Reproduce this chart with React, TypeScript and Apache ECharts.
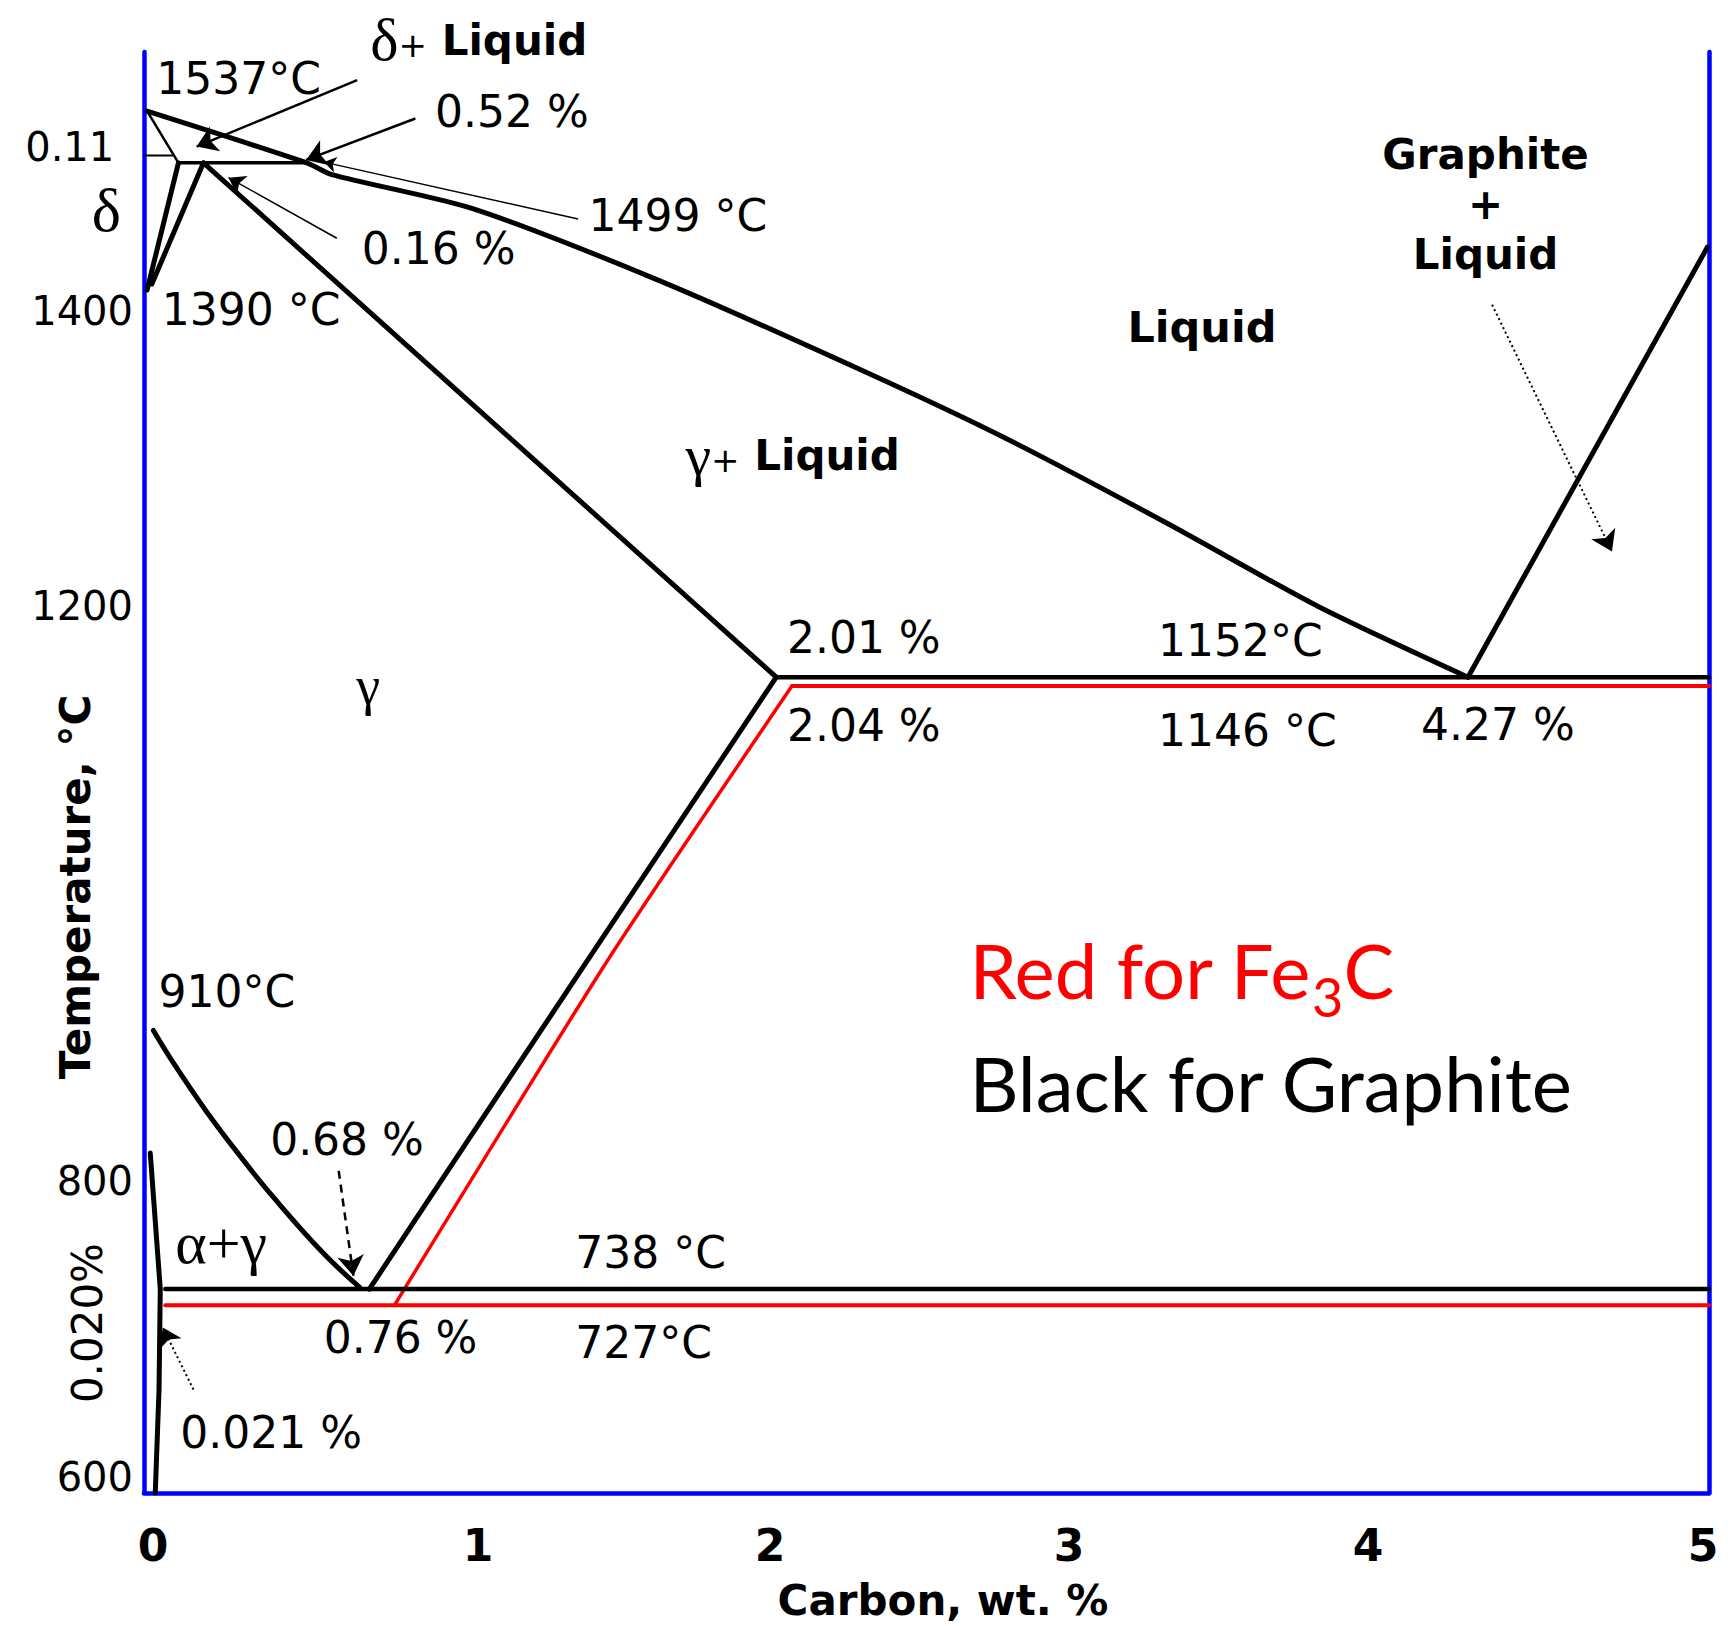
import React, { useEffect, useRef } from "react";
import * as echarts from "echarts";

// ---------- axes ----------
const xRange = [0, 5];
const yRange = [600, 1575];
const xTicks = [0, 1, 2, 3, 4, 5];
const yTicks = [600, 800, 1200, 1400];

// ---------- phase boundaries: [carbon wt.%, temperature °C] ----------
const liquidus = [[0.01, 1535], [0.52, 1500], [0.6, 1492], [1.05, 1469], [1.65, 1420], [2.3, 1359], [2.74, 1315], [3.27, 1256], [3.75, 1200], [4.23, 1152]];
const deltaSolidus = [[0.01, 1535], [0.11, 1500]];
const peritectic = [[0.11, 1500], [0.52, 1500]];
const deltaLeft = [[0.11, 1500], [0.01, 1414]];
const deltaRight = [[0.19, 1500], [0.025, 1418]];
const gammaSolidus = [[0.19, 1500], [2.02, 1152]];
const graphiteLiquidus = [[4.23, 1152], [4.995, 1443]];
const eutecticGraphite = [[2.02, 1152], [5, 1152]];
const eutecticFe3C = [[2.07, 1146], [5, 1146]];
const acmGraphite = [[2.02, 1152], [1.4, 955], [0.72, 738]];
const acmFe3C = [[2.07, 1146], [1.48, 960], [0.8, 727]];
const a3Line = [[0.03, 913], [0.094, 891], [0.2, 858], [0.307, 828], [0.414, 800], [0.574, 762], [0.69, 739]];
const eutectoidGraphite = [[0.068, 738], [5, 738]];
const eutectoidFe3C = [[0.068, 727], [5, 727]];
const alphaSolvus = [[0.02, 830], [0.052, 738], [0.048, 670], [0.036, 600]];
const tick011 = [[-0.083, 1505], [0.09, 1505]];
const tick020 = [[-0.074, 746], [-0.013, 742]];

// ---------- arrows: [from, to] ----------
const arrow1537 = [[0.681, 1556], [0.168, 1511]];
const arrow052 = [[0.867, 1530], [0.518, 1502]];
const arrow1499 = [[1.387, 1462], [0.575, 1500.5]];
const arrow016 = [[0.616, 1449], [0.27, 1490]];
const arrow068 = [[0.622, 818], [0.669, 747]];
const arrow021 = [[0.158, 670], [0.06, 712]];
const arrowGraphite = [[4.307, 1404], [4.69, 1237]];

// ---------- annotations: [key, text, carbon, temperature] ----------
const annotations: [string, string, number, number][] = [
  ["t1537", "1537°C", 0.039, 1557],
  ["deltaLiquid", "δ+ Liquid", 0.723, 1583],
  ["p052", "0.52 %", 0.93, 1534.5],
  ["y011", "0.11", -0.095, 1511],
  ["delta", "δ", -0.12, 1468],
  ["t1499", "1499 °C", 1.42, 1464.6],
  ["p016", "0.16 %", 0.696, 1442],
  ["t1390", "1390 °C", 0.057, 1401],
  ["graphiteLiquid", "Graphite\n+\nLiquid", 4.286, 1472],
  ["liquid", "Liquid", 3.38, 1389],
  ["gammaLiquid", "γ+ Liquid", 1.73, 1302],
  ["p201", "2.01 %", 2.054, 1179],
  ["t1152", "1152°C", 3.24, 1177],
  ["p204", "2.04 %", 2.054, 1119],
  ["t1146", "1146 °C", 3.24, 1116],
  ["p427", "4.27 %", 4.08, 1120],
  ["gamma", "γ", 0.716, 1146],
  ["yName", "Temperature, °C", -0.22, 1010],
  ["t910", "910°C", 0.046, 939],
  ["p068", "0.68 %", 0.403, 839],
  ["alphaGamma", "α+γ", 0.1, 769],
  ["t738", "738 °C", 1.378, 763],
  ["p076", "0.76 %", 0.574, 705],
  ["t727", "727°C", 1.378, 702],
  ["p020", "0.020%", -0.18, 715],
  ["p021", "0.021 %", 0.116, 641],
  ["fe3c", "Red for Fe3C", 2.637, 954],
  ["graphite", "Black for Graphite", 2.637, 878],
];

const BLUE = "#0000ff";
const RED = "#ff0000";
const SANS = "DejaVu Sans";
const SERIF = "Liberation Serif";
const CAL = "Lato";

function labelFor(key: string, text: string): any {
  const L: any = {
    show: true,
    position: "inside",
    align: "left",
    verticalAlign: "middle",
    fontFamily: SANS,
    fontSize: 44,
    color: "#000",
    opacity: 1,
    formatter: text,
  };
  switch (key) {
    case "y011":
      return { ...L, align: "right", fontSize: 40 };
    case "delta":
      return { ...L, align: "center", fontFamily: SERIF, fontSize: 62 };
    case "deltaLiquid":
    case "gammaLiquid":
      return {
        ...L,
        formatter: `{g|${text[0]}}{p|+}{b|${text.slice(2)}}`,
        rich: {
          g: { fontFamily: SERIF, fontSize: key === "deltaLiquid" ? 60 : 58, color: "#000" },
          p: { fontFamily: SANS, fontSize: 34, color: "#000", padding: [10, 0, 0, 0] },
          b: { fontFamily: SANS, fontWeight: "bold", fontSize: 42, color: "#000" },
        },
      };
    case "graphiteLiquid":
      return { ...L, align: "center", fontWeight: "bold", fontSize: 42, lineHeight: 50 };
    case "liquid":
      return { ...L, align: "center", fontWeight: "bold", fontSize: 43 };
    case "gamma":
      return { ...L, align: "center", fontFamily: SERIF, fontSize: 54 };
    case "alphaGamma":
      return { ...L, fontFamily: SERIF, fontSize: 60 };
    case "yName":
      return { ...L, align: "center", rotate: 90, fontWeight: "bold", fontSize: 42 };
    case "p020":
      return { ...L, align: "center", rotate: 90, fontSize: 42 };
    case "fe3c":
      return {
        ...L,
        formatter: `{r|${text.replace(/3/, "}{s|3}{r|")}}`,
        rich: {
          r: { fontFamily: CAL, fontSize: 76, color: RED },
          s: { fontFamily: CAL, fontSize: 54, color: RED, padding: [54, 0, 0, 0] },
        },
      };
    case "graphite":
      return { ...L, fontFamily: CAL, fontSize: 76, color: "#000" };
    default:
      return L;
  }
}

function lineSeries(data: number[][], color: string, width: number, smooth: number | boolean = false) {
  return {
    type: "line",
    data,
    symbol: "none",
    showSymbol: false,
    smooth,
    clip: false,
    silent: true,
    z: 3,
    lineStyle: { color, width, cap: "round", join: "round" },
  };
}

function arrowSeries(pair: number[][], width: number, type: any, head: number) {
  return {
    type: "lines",
    coordinateSystem: "cartesian2d",
    silent: true,
    z: 4,
    symbol: ["none", "arrow"],
    symbolSize: head,
    lineStyle: { color: "#000", width, type, opacity: 1, curveness: 0 },
    data: [{ coords: pair }],
  };
}

const X_FONT = { fontFamily: SANS, fontWeight: "bold", fontSize: 44, color: "#000" };

function buildOption(): any {
  return {
    animation: false,
    backgroundColor: "#ffffff",
    grid: { left: 144, right: 25, top: 52, bottom: 133, containLabel: false, outerBoundsMode: "none" },
    xAxis: {
      type: "value",
      min: xRange[0],
      max: xRange[1],
      interval: 1,
      axisLine: { show: true, onZero: false, lineStyle: { color: BLUE, width: 4.5 } },
      axisTick: { show: false },
      splitLine: { show: false },
      axisLabel: {
        margin: 30,
        showMinLabel: true,
        showMaxLabel: true,
        ...X_FONT,
        formatter: (v: number) => (xTicks.includes(v) ? `{x${v}|${v}}` : ""),
        rich: {
          x0: { ...X_FONT, padding: [0, 0, 0, 18] },
          x1: { ...X_FONT, padding: [0, 0, 0, 42] },
          x2: { ...X_FONT },
          x3: { ...X_FONT, padding: [0, 28, 0, 0] },
          x4: { ...X_FONT, padding: [0, 56, 0, 0] },
          x5: { ...X_FONT, padding: [0, 12, 0, 0] },
        },
      },
      name: "Carbon, wt. %",
      nameLocation: "middle",
      nameGap: 86,
      nameTextStyle: { fontFamily: SANS, fontWeight: "bold", fontSize: 42, color: "#000", padding: [0, 0, 0, 33] },
    },
    yAxis: [
      {
        type: "value",
        min: yRange[0],
        max: yRange[1],
        interval: 100,
        position: "left",
        axisLine: { show: true, onZero: false, lineStyle: { color: BLUE, width: 4.5 } },
        axisTick: { show: false },
        splitLine: { show: false },
        axisLabel: {
          margin: 11,
          fontFamily: SANS,
          fontSize: 40,
          color: "#000",
          formatter: (v: number) => (yTicks.includes(v) ? (v < 1000 ? `{lift|${v}}` : String(v)) : ""),
          rich: { lift: { fontFamily: SANS, fontSize: 40, color: "#000", padding: [0, 0, 32, 0] } },
        },
      },
      {
        type: "value",
        min: yRange[0],
        max: yRange[1],
        position: "right",
        axisLine: { show: true, onZero: false, lineStyle: { color: BLUE, width: 4.5 } },
        axisTick: { show: false },
        axisLabel: { show: false },
        splitLine: { show: false },
      },
    ],
    series: [
      lineSeries(liquidus, "#000", 5, 0.25),
      lineSeries(deltaSolidus, "#000", 2.5),
      lineSeries(peritectic, "#000", 3.5),
      lineSeries(deltaLeft, "#000", 5),
      lineSeries(deltaRight, "#000", 5),
      lineSeries(gammaSolidus, "#000", 5),
      lineSeries(graphiteLiquidus, "#000", 5),
      lineSeries(eutecticFe3C, RED, 4),
      lineSeries(eutecticGraphite, "#000", 4.5),
      lineSeries(acmFe3C, RED, 3.5, 0.2),
      lineSeries(acmGraphite, "#000", 5, 0.2),
      lineSeries(a3Line, "#000", 5, 0.4),
      lineSeries(eutectoidFe3C, RED, 4),
      lineSeries(eutectoidGraphite, "#000", 4.5),
      lineSeries(alphaSolvus, "#000", 5),
      lineSeries(tick011, "#000", 2),
      lineSeries(tick020, "#000", 3),
      arrowSeries(arrow1537, 2.5, "solid", 20),
      arrowSeries(arrow052, 2.5, "solid", 20),
      arrowSeries(arrow1499, 1.5, "solid", 12),
      arrowSeries(arrow016, 1.5, "solid", 16),
      arrowSeries(arrow068, 2.5, [8, 6], 20),
      arrowSeries(arrow021, 2, [2, 3], 18),
      arrowSeries(arrowGraphite, 2, [2, 3], 20),
      {
        type: "scatter",
        silent: true,
        clip: false,
        symbolSize: 1,
        itemStyle: { color: "transparent", opacity: 1 },
        z: 5,
        data: annotations.map(([key, text, x, t]) => ({ value: [x, t], label: labelFor(key, text) })),
      },
    ],
  };
}

export default function App() {
  const ref = useRef<HTMLDivElement>(null);
  useEffect(() => {
    document.body.style.margin = "0";
    const chart = echarts.init(ref.current!, undefined, { renderer: "svg" });
    chart.setOption(buildOption());
    return () => chart.dispose();
  }, []);
  return <div ref={ref} style={{ width: 1734, height: 1626 }} />;
}
